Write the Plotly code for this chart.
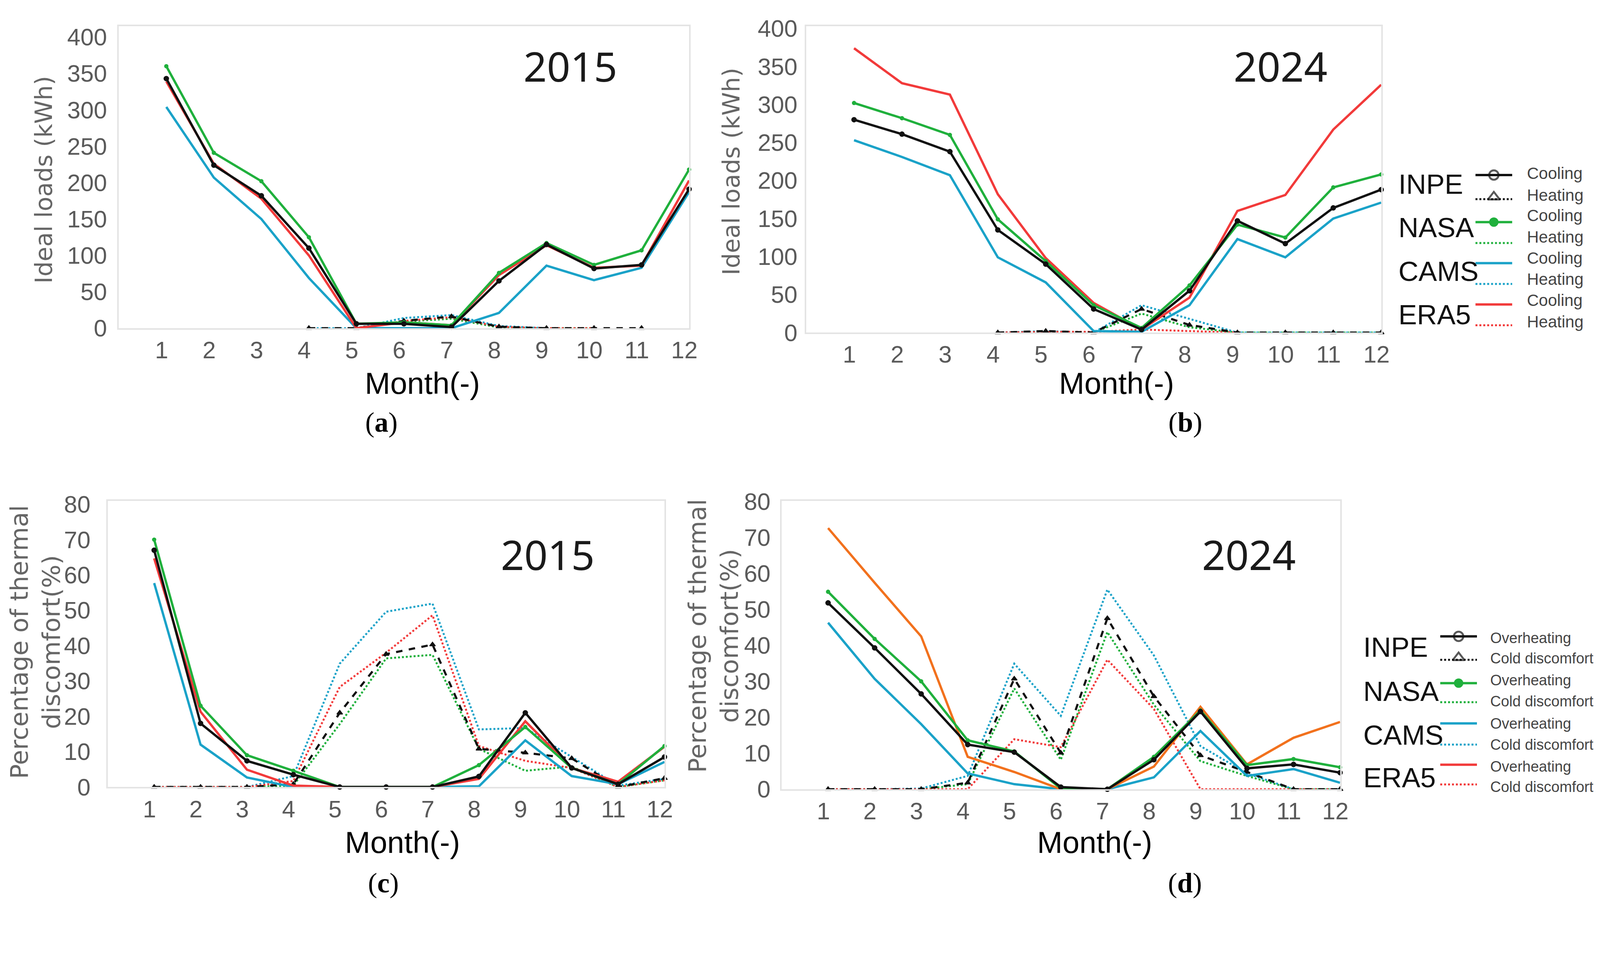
import plotly.graph_objects as go

W, H = 4373, 2475

months = list(range(1, 13))
load_ticks = list(range(0, 401, 50))
pct_ticks = list(range(0, 81, 10))

# (a) 2015 ideal loads (kWh)
a_inpe_cool = [343, 224, 182, 110, 6, 6, 1.5, 65, 115, 82, 87, 191]
a_nasa_cool = [360, 241, 202, 125, 6, 8, 4, 76, 117, 87, 107, 218]
a_cams_cool = [304, 207, 150, 69, 0, 0, 0, 21, 86, 66, 83, 187]
a_era5_cool = [339, 226, 178, 100, 0, 8, 4, 73, 114, 83, 86, 203]
a_inpe_heat = [None, None, None, 0, 0, 10, 16, 2, 0, 0, 0, None]
a_nasa_heat = [None, None, None, None, 0, 9, 13, 1, 0, 0, None, None]
a_cams_heat = [None, None, None, 0, 0, 14, 18, 3, 0, None, None, None]
a_era5_heat = [None, None, None, None, -1, 10, 15, 2, 0, 0, None, None]

# (b) 2024 ideal loads (kWh)
b_inpe_cool = [280, 261, 238, 135, 90, 31, 4, 55, 147, 117, 164, 188]
b_nasa_cool = [302, 282, 260, 149, 94, 36, 6, 62, 142, 125, 191, 208]
b_cams_cool = [253, 231, 207, 99, 66, 2, 1, 36, 123, 99, 150, 171]
b_era5_cool = [374, 328, 313, 182, 98, 39, 4, 46, 160, 181, 267, 326]
b_inpe_heat = [None, None, None, 0, 2, 0, 31, 10, 0, 0, 0, 0]
b_nasa_heat = [None, None, None, 0, 1, 0, 25, 7, 0, 0, 0, 0]
b_cams_heat = [None, None, None, 0, 2, 0, 36, 18, 0, 0, 0, 0]
b_era5_heat = [None, None, None, 0, 1, 1, 4, 2, 0, None, None, None]

# (c) 2015 thermal discomfort (%)
c_inpe_over = [67, 18, 7.4, 3.5, 0, 0, 0, 3, 21, 5.4, 0.8, 8.5]
c_nasa_over = [70, 23, 9, 4.6, 0, 0, 0, 6.2, 17, 5.4, 0.8, 11.6]
c_cams_over = [57.7, 12, 2.7, 0, 0, 0, 0, 0.2, 13.2, 3.1, 0.8, 7.1]
c_era5_over = [64.7, 21.3, 4.9, 0.4, 0, 0, 0, 2.3, 18.6, 5.4, 1.5, 11.4]
c_inpe_cold = [0, 0, 0, 0.8, 21, 37.6, 40.3, 10.8, 9.7, 8.1, 0, 2.5]
c_nasa_cold = [0, 0, 0, 0.4, 17.8, 36.4, 37.4, 10.8, 4.6, 5.8, 0, 1.9]
c_cams_cold = [0, 0, 0, 3.1, 34.9, 49.6, 51.9, 16.3, 16.7, 8.5, 0.4, 2.3]
c_era5_cold = [0, 0, 0, 1.7, 28.3, 38, 48.6, 11.6, 7.4, 5.4, 0, 1.9]

# (d) 2024 thermal discomfort (%)
d_inpe_over = [51.8, 39.3, 26.5, 12.4, 10.3, 0.6, 0, 8.2, 21.6, 5.8, 6.9, 4.6]
d_nasa_over = [54.9, 41.8, 30, 13.6, 10.5, 0.2, 0, 9, 21.9, 6.7, 8.4, 6.1]
d_cams_over = [46.3, 30.7, 18.1, 4.4, 1.4, 0, 0, 3.3, 16.2, 3.7, 5.6, 1.8]
d_era5_over = [72.6, 57.4, 42.5, 9, 4.8, 0, 0, 6.3, 22.9, 6.9, 14.3, 18.7]
d_inpe_cold = [0, 0, 0, 1.8, 30.7, 10.1, 47.5, 25.8, 9.4, 4.8, 0, 0]
d_nasa_cold = [0, 0, 0, 1.4, 28, 8.2, 43.7, 23.5, 7.8, 3.7, 0, 0]
d_cams_cold = [0, 0, 0.2, 3.7, 34.9, 20.4, 55.5, 37.2, 12, 4.4, 0, 0]
d_era5_cold = [0, 0, 0, 0, 13.9, 11.7, 36, 22.3, 0, 0, 0, 0]

sources = ["INPE", "NASA", "CAMS", "ERA5"]

BLACK = "#111111"
GREEN = "#1fb03c"
CYAN = "#1aa2c8"
RED = "#f23a3a"
ORANGE = "#f2711d"

# positions below are given in screenshot pixels; the page comes out a bit
# enlarged and pushed down, so map them back before handing them to plotly
SX, OX = 0.9442, -5.5
SY, OY = 0.9614, -42.4
FS = 0.953


def px(x):
    return (SX * x + OX) / W


def py(y):
    return 1 - (SY * y + OY) / H


def fs(size):
    return round(size * FS)


def add_line(fig, ax, y, color, dash="solid", width=6, symbol=None, msize=11):
    mode = "lines+markers" if symbol else "lines"
    marker = {}
    if symbol:
        marker = dict(symbol=symbol, size=msize, color=color,
                      line=dict(color=color, width=2))
    fig.add_trace(go.Scatter(
        x=months, y=y, mode=mode, xaxis="x" + ax, yaxis="y" + ax,
        line=dict(color=color, width=width, dash=dash),
        marker=marker, showlegend=False, cliponaxis=False, connectgaps=False,
    ))


fig = go.Figure()

# heating / cold discomfort first, then cooling / overheating on top
panels = [
    ("", [a_inpe_heat, a_nasa_heat, a_cams_heat, a_era5_heat],
     [a_cams_cool, a_era5_cool, a_nasa_cool, a_inpe_cool], RED),
    ("2", [b_inpe_heat, b_nasa_heat, b_cams_heat, b_era5_heat],
     [b_cams_cool, b_era5_cool, b_nasa_cool, b_inpe_cool], RED),
    ("3", [c_inpe_cold, c_nasa_cold, c_cams_cold, c_era5_cold],
     [c_cams_over, c_era5_over, c_nasa_over, c_inpe_over], RED),
    ("4", [d_inpe_cold, d_nasa_cold, d_cams_cold, d_era5_cold],
     [d_cams_over, d_era5_over, d_nasa_over, d_inpe_over], ORANGE),
]
for ax, heat, cool, era_color in panels:
    add_line(fig, ax, heat[1], GREEN, dash="dot", width=5)
    add_line(fig, ax, heat[2], CYAN, dash="dot", width=5)
    add_line(fig, ax, heat[3], RED, dash="dot", width=5)
    add_line(fig, ax, heat[0], BLACK, dash="dash", width=5.5, symbol="triangle-up", msize=13)
    add_line(fig, ax, cool[0], CYAN, width=6)
    add_line(fig, ax, cool[1], era_color, width=6)
    add_line(fig, ax, cool[2], GREEN, width=6, symbol="circle", msize=9)
    add_line(fig, ax, cool[3], BLACK, width=6, symbol="circle", msize=12)

tick_font = dict(family="Liberation Sans, Arial, sans-serif", size=fs(64), color="#5a5a5a")
frame = dict(showline=True, mirror=True, linecolor="#e4e4e4", linewidth=4,
             showgrid=False, zeroline=False, ticks="", tickfont=tick_font)

domains = {
    "": ([321, 1875], [73, 899], [0, 415], load_ticks, 14),
    "2": ([2194, 3761], [73, 911], [0, 403], load_ticks, 6),
    "3": ([291, 1808], [1371, 2154], [0, 81], pct_ticks, 28),
    "4": ([2127, 3649], [1371, 2160], [0, 80.2], pct_ticks, 12),
}
layout_axes = {}
for ax, (xd, yd, yr, yt, ystand) in domains.items():
    layout_axes["xaxis" + ax] = dict(
        domain=[px(xd[0]), px(xd[1])], range=[0, 12], tickvals=months,
        ticklabelstandoff=0, ticklabelshift=-12, anchor="y" + ax, **frame)
    layout_axes["yaxis" + ax] = dict(
        domain=[py(yd[1]), py(yd[0])], range=yr, tickvals=yt,
        ticklabelstandoff=ystand, anchor="x" + ax, **frame)

# hidden pixel-space axis for the hand-built legends
layout_axes["xaxis5"] = dict(domain=[0, 1], range=[-OX / SX, (W - OX) / SX],
                             visible=False, anchor="y5")
layout_axes["yaxis5"] = dict(domain=[0, 1], range=[(H - OY) / SY, -OY / SY],
                             visible=False, anchor="x5")

annotations = []


def text(x, y, s, size, color="#111111", family="Liberation Sans, Arial, sans-serif",
         angle=0, xanchor="center"):
    annotations.append(dict(
        x=px(x), y=py(y), xref="paper", yref="paper", text=s, showarrow=False,
        xanchor=xanchor, yanchor="middle", textangle=angle,
        font=dict(family=family, size=fs(size), color=color)))


year_font = "Noto Sans, Open Sans, sans-serif"
for x, y, s in [(1551, 181, "2015"), (3487, 181, "2024"), (1490, 1517, "2015"), (3400, 1517, "2024")]:
    text(x, y, s, 110, "#1a1a1a", year_font)

for x, y in [(1148, 1050), (3040, 1050), (1094, 2305), (2980, 2305)]:
    text(x, y, "Month(-)", 82, "#000000")

title_font = "DejaVu Sans, sans-serif"
text(115, 493, "Ideal loads (kWh)", 64, "#666666", title_font, angle=-90)
text(1989, 471, "Ideal loads (kWh)", 64, "#666666", title_font, angle=-90)
text(94, 1757, "Percentage of thermal<br>discomfort(%)", 66, "#666666", title_font, angle=-90)
text(1942, 1740, "Percentage of thermal<br>discomfort(%)", 66, "#666666", title_font, angle=-90)

cap_font = "Liberation Serif, Times New Roman, serif"
for x, y, s in [(1037, 1157, "(<b>a</b>)"), (3227, 1157, "(<b>b</b>)"),
                (1042, 2417, "(<b>c</b>)"), (3226, 2417, "(<b>d</b>)")]:
    text(x, y, s, 74, "#000000", cap_font)

# legend rows: source name y, sample line y pair, label y pair
leg_b_name_y = [505, 624, 744, 862]
leg_b_lines = [(480, 546), (609, 666), (721, 778), (834, 891)]
leg_b_text = [(475, 535), (591, 649), (707, 765), (823, 881)]
leg_d_name_y = [1772, 1892, 2012, 2128]
leg_d_lines = [(1742, 1806), (1870, 1922), (1980, 2038), (2093, 2147)]
leg_d_text = [(1746, 1802), (1862, 1920), (1980, 2038), (2098, 2154)]
src_colors = [BLACK, GREEN, CYAN, RED]


def legend(name_x, line_x, label_x, name_y, lines, texts, labels, label_size):
    for i, src in enumerate(sources):
        text(name_x, name_y[i], src, 74, "#111111", xanchor="left")
        c = src_colors[i]
        ly1, ly2 = lines[i]
        fig.add_trace(go.Scatter(x=list(line_x), y=[ly1, ly1], mode="lines", xaxis="x5", yaxis="y5",
                                 line=dict(color=c, width=6), showlegend=False, hoverinfo="skip"))
        fig.add_trace(go.Scatter(x=list(line_x), y=[ly2, ly2], mode="lines", xaxis="x5", yaxis="y5",
                                 line=dict(color=c, width=5, dash="dot"), showlegend=False, hoverinfo="skip"))
        mid = (line_x[0] + line_x[1]) / 2
        if src == "INPE":
            fig.add_trace(go.Scatter(x=[mid, mid], y=[ly1, ly2 - 6], mode="markers", xaxis="x5", yaxis="y5",
                                     marker=dict(symbol=["circle-open", "triangle-up-open"], size=[24, 26],
                                                 color=c, line=dict(width=5, color=c)),
                                     showlegend=False, hoverinfo="skip"))
        if src == "NASA":
            fig.add_trace(go.Scatter(x=[mid], y=[ly1], mode="markers", xaxis="x5", yaxis="y5",
                                     marker=dict(symbol="circle", size=24, color=c),
                                     showlegend=False, hoverinfo="skip"))
        t1, t2 = texts[i]
        text(label_x, t1, labels[0], label_size, "#444444", xanchor="left")
        text(label_x, t2, labels[1], label_size, "#444444", xanchor="left")


legend(3806, (4018, 4118), 4156, leg_b_name_y, leg_b_lines, leg_b_text, ("Cooling", "Heating"), 44)
legend(3710, (3922, 4022), 4056, leg_d_name_y, leg_d_lines, leg_d_text,
       ("Overheating", "Cold discomfort"), 40)

fig.update_layout(
    width=W, height=H, margin=dict(l=0, r=0, t=0, b=0),
    paper_bgcolor="white", plot_bgcolor="rgba(0,0,0,0)",
    showlegend=False, annotations=annotations, **layout_axes,
)

fig.write_html("out.html")
